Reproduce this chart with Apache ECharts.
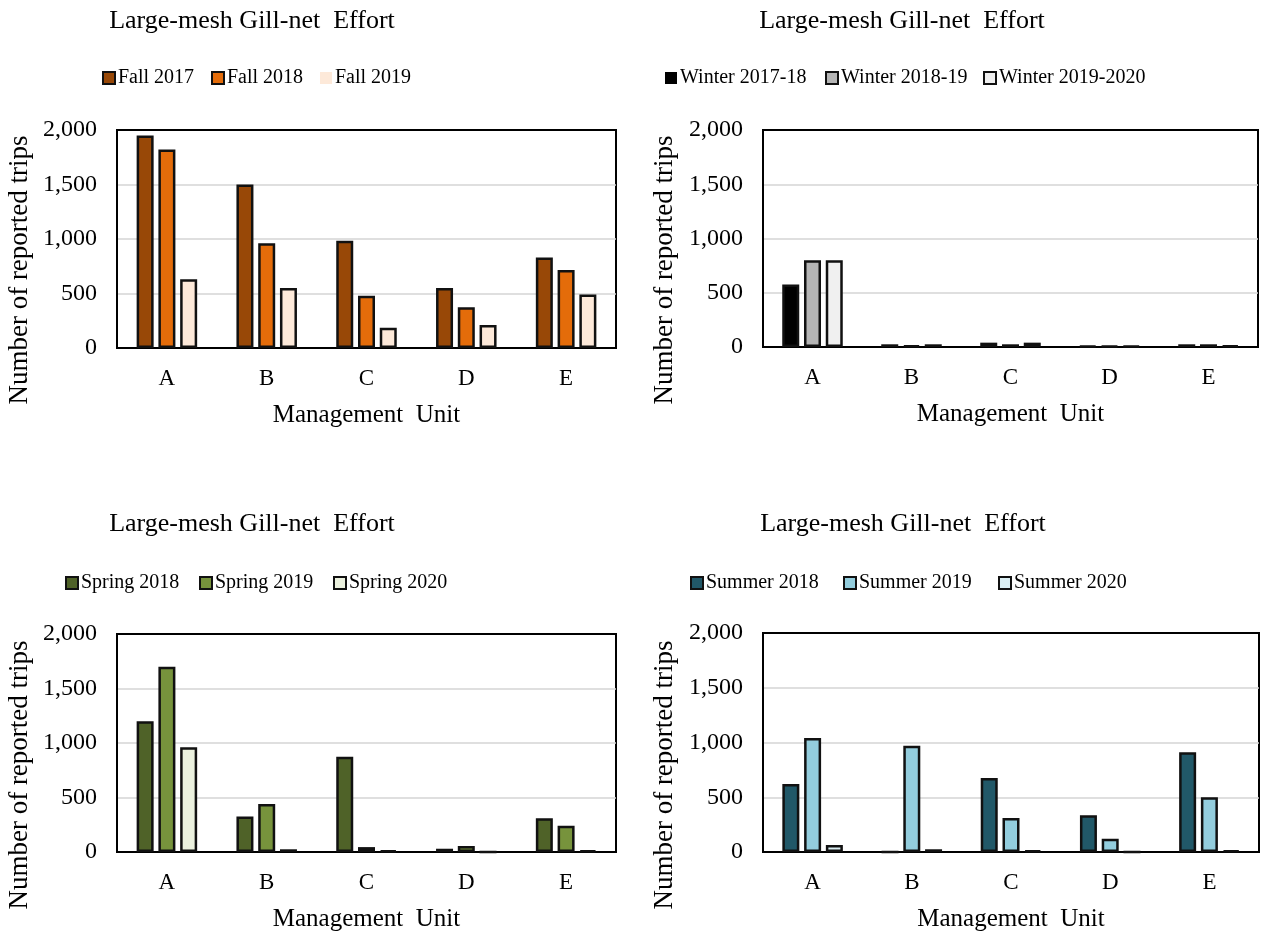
<!DOCTYPE html>
<html>
<head>
<meta charset="utf-8">
<script src="https://cdn.jsdelivr.net/npm/echarts@6/dist/echarts.min.js"></script>
<style>html,body{margin:0;padding:0;background:#fff}#c{width:1262px;height:936px}</style>
</head>
<body>
<div id="c"></div>
<script>
const categories = ['A', 'B', 'C', 'D', 'E'];
const titleText = 'Large-mesh Gill-net  Effort';
const xAxisName = 'Management  Unit';
const yAxisName = 'Number of reported trips';
const yTicks = [0, 500, 1000, 1500, 2000];

const fallNames = ['Fall 2017', 'Fall 2018', 'Fall 2019'];
const fall2017 = [1950, 1500, 985, 550, 830];
const fall2018 = [1820, 960, 480, 375, 715];
const fall2019 = [630, 550, 185, 210, 490];

const winterNames = ['Winter 2017-18', 'Winter 2018-19', 'Winter 2019-2020'];
const winter2017_18 = [575, 25, 40, 10, 25];
const winter2018_19 = [800, 15, 25, 10, 25];
const winter2019_20 = [800, 25, 40, 10, 15];

const springNames = ['Spring 2018', 'Spring 2019', 'Spring 2020'];
const spring2018 = [1200, 325, 875, 30, 310];
const spring2019 = [1700, 440, 45, 55, 240];
const spring2020 = [960, 25, 15, 0, 15];

const summerNames = ['Summer 2018', 'Summer 2019', 'Summer 2020'];
const summer2018 = [620, 0, 675, 335, 910];
const summer2019 = [1040, 970, 310, 120, 500];
const summer2020 = [65, 25, 15, 0, 15];

const FONT = '"Liberation Serif", "Times New Roman", serif';

const panels = [
  { names: fallNames, data: [fall2017, fall2018, fall2019], colors: ['#984807', '#E46C0A', '#FDE9D9'],
    grid: { left: 117, top: 130, width: 499, height: 218 }, titleX: 252, titleY: 21,
    yNameX: 20, yNameY: 270, legendTop: 68, legendLeft: [102, 211, 320], legendNoBorder: [2] },
  { names: winterNames, data: [winter2017_18, winter2018_19, winter2019_20], colors: ['#000000', '#B5B5B5', '#F0F0F0'],
    grid: { left: 763, top: 130, width: 495, height: 217 }, titleX: 902, titleY: 21,
    yNameX: 665, yNameY: 270, legendTop: 68, legendLeft: [665, 825, 983], legendNoBorder: [0] },
  { names: springNames, data: [spring2018, spring2019, spring2020], colors: ['#4F6228', '#77933C', '#EBF1DE'],
    grid: { left: 117, top: 634, width: 499, height: 218 }, titleX: 252, titleY: 524,
    yNameX: 20, yNameY: 775, legendTop: 573, legendLeft: [65, 199, 333], legendNoBorder: [] },
  { names: summerNames, data: [summer2018, summer2019, summer2020], colors: ['#215868', '#93CDDD', '#DAEEF3'],
    grid: { left: 763, top: 633, width: 496, height: 219 }, titleX: 903, titleY: 524,
    yNameX: 665, yNameY: 775, legendTop: 573, legendLeft: [690, 843, 998], legendNoBorder: [] }
];

const grid = [], xAxis = [], yAxis = [], series = [], legend = [], graphic = [];

panels.forEach((p, i) => {
  grid.push(Object.assign({ show: true, borderColor: '#000', borderWidth: 2, backgroundColor: '#fff' }, p.grid));
  xAxis.push({
    type: 'category', gridIndex: i, data: categories,
    axisLine: { show: true, lineStyle: { color: '#000', width: 2 } }, axisTick: { show: false },
    axisLabel: { color: '#000', fontFamily: FONT, fontSize: 23, margin: 19 },
    name: xAxisName, nameLocation: 'middle', nameGap: 55,
    nameTextStyle: { color: '#000', fontFamily: FONT, fontSize: 25 }
  });
  yAxis.push({
    type: 'value', gridIndex: i, min: yTicks[0], max: yTicks[yTicks.length - 1], interval: 500,
    axisLine: { show: true, lineStyle: { color: '#000', width: 2 } }, axisTick: { show: false },
    axisLabel: { color: '#000', fontFamily: FONT, fontSize: 24, margin: 20,
      formatter: v => v.toLocaleString('en-US') },
    splitLine: { show: true, showMinLine: false, showMaxLine: false, lineStyle: { color: '#d4d4d4', width: 1.5 } }
  });
  p.names.forEach((n, k) => {
    series.push({
      type: 'bar', name: n, xAxisIndex: i, yAxisIndex: i, data: p.data[k],
      barWidth: 17, barGap: '28%',
      itemStyle: { color: p.colors[k], borderColor: '#111', borderWidth: 2.5 },
      emphasis: { disabled: true }
    });
    const item = { name: n };
    if (p.legendNoBorder.indexOf(k) >= 0) item.itemStyle = { borderWidth: 0 };
    legend.push({
      data: [item], left: p.legendLeft[k], top: p.legendTop, padding: 0,
      icon: 'rect', itemWidth: 12, itemHeight: 12, itemGap: 0,
      textStyle: { color: '#000', fontFamily: FONT, fontSize: 20, padding: [0, 0, 0, -2] },
      selectedMode: false
    });
  });
  graphic.push({
    type: 'text', x: p.titleX, y: p.titleY,
    style: { text: titleText, fill: '#000', font: '26px ' + FONT, textAlign: 'center', textVerticalAlign: 'middle' }
  });
  graphic.push({
    type: 'text', x: p.yNameX, y: p.yNameY, rotation: Math.PI / 2,
    style: { text: yAxisName, fill: '#000', font: '27px ' + FONT, textAlign: 'center', textVerticalAlign: 'middle' }
  });
});

const chart = echarts.init(document.getElementById('c'), null, { renderer: 'canvas' });
chart.setOption({
  animation: false,
  backgroundColor: '#fff',
  grid, xAxis, yAxis, series, legend, graphic
});
</script>
</body>
</html>
